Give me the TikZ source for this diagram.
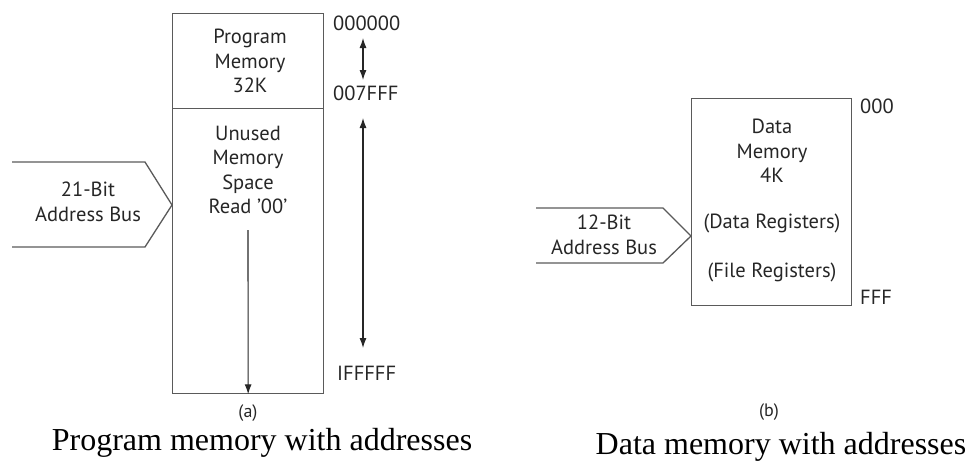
\documentclass[tikz,border=0pt]{standalone}
\usepackage{fontspec}
\setmainfont{Liberation Serif}
\newfontfamily\labelfont{PT Sans}
\usetikzlibrary{arrows.meta}
\definecolor{linegray}{HTML}{5A5A5A}
\definecolor{textgray}{HTML}{262626}
\tikzset{
  membox/.style={draw=linegray, line width=1.3pt, inner sep=0pt},
  lbl/.style={text=textgray, font=\labelfont\fontsize{20.5}{24.5}\selectfont, align=center, inner sep=0pt},
  busline/.style={draw=linegray, line width=1.3pt, line join=miter},
  dimarrow/.style={draw=textgray, line width=1.1pt, {Latex[length=10pt,width=7pt]}-{Latex[length=10pt,width=7pt]}},
  downarrow/.style={draw=textgray, line width=1.1pt, -{Latex[length=10pt,width=7pt]}},
  caption/.style={font=\fontsize{32}{36}\selectfont, inner sep=0pt}
}
\begin{document}
\begin{tikzpicture}[x=1pt, y=-1pt]
  \useasboundingbox (0,0) rectangle (969,463);

  % ---------- (a) program memory ----------
  \node[membox, minimum width=151pt, minimum height=95pt, anchor=north west] (pm) at (172,13) {};
  \node[membox, minimum width=151pt, minimum height=285pt, anchor=north west] (un) at (172,108) {};
  \node[lbl] (pmtxt) at (250,61) {Program\\Memory\\32K};
  \node[lbl] (untxt) at (248,170) {Unused\\Memory\\Space\\Read ’00’};

  \node[lbl, anchor=west] (a0) at (333,23) {000000};
  \node[lbl, anchor=west] (a1) at (333,93) {007FFF};
  \node[lbl, anchor=west] (a2) at (337,373) {IFFFFF};
  \coordinate (d0) at (363,38);
  \coordinate (d1) at (363,80);
  \coordinate (d2) at (363,118);
  \coordinate (d3) at (363,348);
  \draw[dimarrow] (d0) -- (d1);
  \draw[dimarrow] (d2) -- (d3);
  \draw[downarrow] (248,230) -- (un.south);

  \draw[busline] (12,162) -- (145,162) -- (172,205) -- (145,247) -- (12,247);
  \node[lbl] (busa) at (88,202) {21-Bit\\Address Bus};

  \node[lbl, font=\labelfont\fontsize{18}{20}\selectfont] (capa) at (248,413) {(a)};
  \node[caption] (capta) at (262,443) {Program memory with addresses};

  % ---------- (b) data memory ----------
  \node[membox, minimum width=160pt, minimum height=207pt, anchor=north west] (dm) at (691,98) {};
  \node[lbl] (dmtxt) at (772,151) {Data\\Memory\\4K};
  \node[lbl] (dreg) at (772,223) {(Data Registers)};
  \node[lbl] (freg) at (772,272) {(File Registers)};
  \node[lbl, anchor=west] (b0) at (860,106) {000};
  \node[lbl, anchor=west] (b1) at (860,297) {FFF};

  \draw[busline] (536,208) -- (663,208) -- (691,236) -- (663,263) -- (536,263);
  \node[lbl] (busb) at (604,235) {12-Bit\\Address Bus};

  \node[lbl, font=\labelfont\fontsize{18}{20}\selectfont] (capb) at (769,412) {(b)};
  \node[caption] (captb) at (781,447) {Data memory with addresses};
\end{tikzpicture}
\end{document}
